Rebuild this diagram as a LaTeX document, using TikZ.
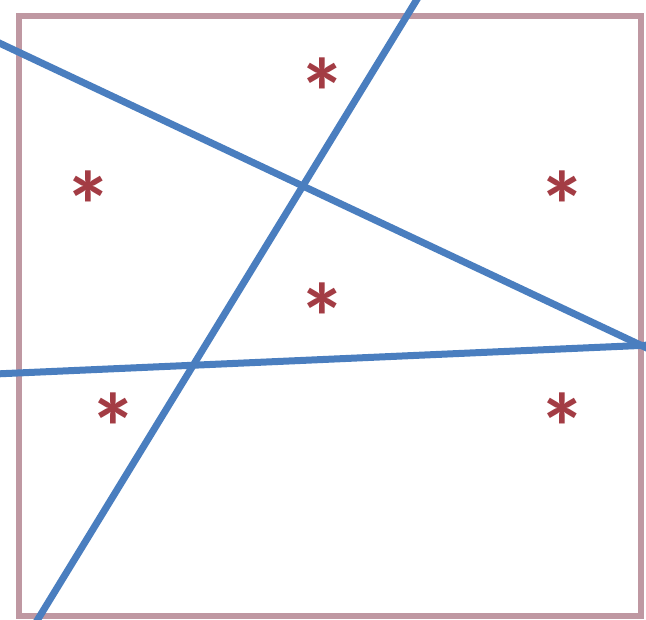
\documentclass[tikz,border=0pt]{standalone}
\usepackage{fontspec}
\newfontfamily\astfont{Carlito}
\begin{document}
\begin{tikzpicture}[x=1pt,y=-1pt,
  frame/.style={draw=framecol,line width=6pt},
  cutline/.style={draw=lineblue,line width=7pt},
  star/.style={text=starred,font=\astfont\bfseries\fontsize{96}{96}\selectfont,inner sep=0pt,anchor=center}]
\definecolor{framecol}{HTML}{BF98A2}
\definecolor{lineblue}{HTML}{4A7EBF}
\definecolor{starred}{HTML}{A33C44}
\useasboundingbox (0,0) rectangle (646,620);
\fill[white] (0,0) rectangle (646,620);
\draw[frame] (19,16) rectangle (641,616);
\node[star] (s1) at (322,92) {*};
\node[star] (s2) at (88,205) {*};
\node[star] (s3) at (562,205) {*};
\node[star] (s4) at (322,317) {*};
\node[star] (s5) at (113,427) {*};
\node[star] (s6) at (562,427) {*};
\coordinate (l1a) at (-5,41);
\coordinate (l1b) at (651,350);
\coordinate (l2a) at (419,-4);
\coordinate (l2b) at (35,624);
\coordinate (l3a) at (-5,374);
\coordinate (l3b) at (651,345);
\draw[cutline] (l1a) -- (l1b);
\draw[cutline] (l2a) -- (l2b);
\draw[cutline] (l3a) -- (l3b);
\end{tikzpicture}
\end{document}
